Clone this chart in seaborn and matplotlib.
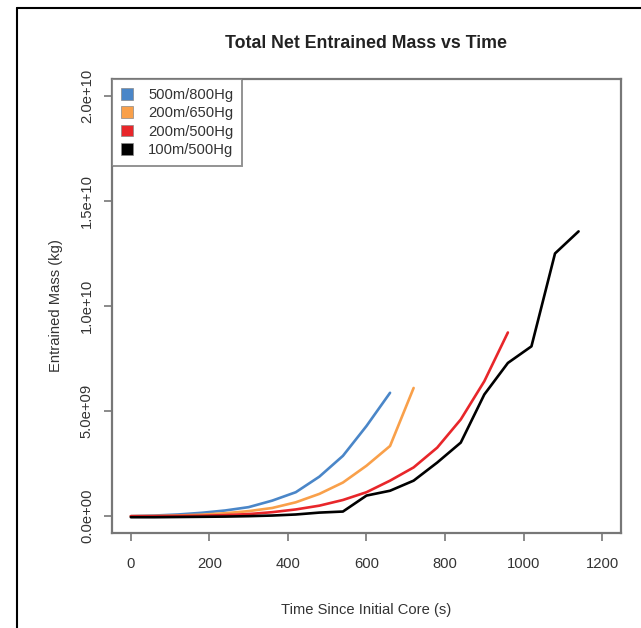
import pandas as pd
import matplotlib
matplotlib.use("Agg")
import matplotlib.pyplot as plt
from matplotlib.patches import Patch
from matplotlib.lines import Line2D
import seaborn as sns

# values (units of 1e9 kg)
t_blue = [0, 60, 120, 180, 240, 300, 360, 420, 480, 540, 600, 660]
m_blue = [0, 0.03, 0.08, 0.16, 0.27, 0.43, 0.74, 1.14, 1.88, 2.87, 4.29, 5.87]

t_orange = [0, 60, 120, 180, 240, 300, 360, 420, 480, 540, 600, 660, 720]
m_orange = [0, 0.01, 0.03, 0.07, 0.14, 0.24, 0.39, 0.66, 1.06, 1.60, 2.40, 3.34, 6.10]

t_red = [0, 60, 120, 180, 240, 300, 360, 420, 480, 540, 600, 660, 720, 780, 840, 900, 960]
m_red = [0, 0.0, 0.01, 0.02, 0.05, 0.10, 0.19, 0.32, 0.50, 0.77, 1.14, 1.69, 2.32, 3.26, 4.60, 6.42, 8.74]

t_black = [0, 60, 120, 180, 240, 300, 360, 420, 480, 540, 600, 660, 720, 780, 840, 900, 960, 1020, 1080, 1140]
m_black = [-0.05, -0.05, -0.04, -0.03, -0.02, 0.0, 0.03, 0.08, 0.17, 0.22, 0.98, 1.21, 1.69, 2.55, 3.50, 5.79, 7.29, 8.08, 12.50, 13.55]

labels = ["500m/800Hg", "200m/650Hg", "200m/500Hg", "100m/500Hg"]
colors = ["#4a86c8", "#f9a04a", "#e8262a", "#000000"]

frames = []
for lab, t, m in zip(labels, [t_blue, t_orange, t_red, t_black], [m_blue, m_orange, m_red, m_black]):
    frames.append(pd.DataFrame({"time": t, "mass": [v * 1e9 for v in m], "run": lab}))
df = pd.concat(frames, ignore_index=True)

sns.set_style("ticks")
plt.rcParams["font.family"] = ["Liberation Sans", "DejaVu Sans"]

fig = plt.figure(figsize=(6.41, 6.28), dpi=100)
ax = fig.add_axes([0.1747, 0.1513, 0.9688 - 0.1747, 0.8742 - 0.1513])

sns.lineplot(data=df, x="time", y="mass", hue="run", hue_order=labels,
             palette=colors, linewidth=1.9, legend=False, ax=ax, sort=False)

ax.set_xlim(-48, 1248)
ax.set_ylim(-0.8e9, 2.08e10)
ax.set_xticks([0, 200, 400, 600, 800, 1000, 1200])
ax.set_yticks([0, 5e9, 1e10, 1.5e10, 2e10])
ax.set_yticklabels(["0.0e+00", "5.0e+09", "1.0e+10", "1.5e+10", "2.0e+10"],
                   rotation=90, va="center")
grey = "#777777"
for s in ax.spines.values():
    s.set_color(grey)
    s.set_linewidth(1.6)
ax.tick_params(colors=grey, labelcolor="#333333", labelsize=10.6, length=6, width=1.2)
ax.tick_params(axis="x", pad=11)
ax.tick_params(axis="y", pad=7)

ax.set_xlabel("Time Since Initial Core (s)", fontsize=10.6, color="#333333", labelpad=23)
ax.set_ylabel("Entrained Mass (kg)", fontsize=10.6, color="#333333", labelpad=12)
ax.set_title("Total Net Entrained Mass vs Time", fontsize=12.8, fontweight="bold",
             color="#222222", pad=22)

handles = [Patch(facecolor=c, edgecolor="#888888", linewidth=0.5) for c in colors]
leg = ax.legend(handles, labels, loc="upper left", bbox_to_anchor=(0, 1),
                borderaxespad=0, frameon=True, fancybox=False, fontsize=10.6,
                handlelength=0.85, handleheight=0.85, handletextpad=1.0,
                labelspacing=0.3, borderpad=0.6, labelcolor="#333333")
leg.get_frame().set_edgecolor(grey)
leg.get_frame().set_linewidth(1.4)

# outer frame of the screenshot (left and top edges)
fig.add_artist(Line2D([17 / 641, 17 / 641], [0, 1 - 8 / 628], color="black", linewidth=1.5,
                      transform=fig.transFigure))
fig.add_artist(Line2D([17 / 641, 1], [1 - 8 / 628, 1 - 8 / 628], color="black", linewidth=1.5,
                      transform=fig.transFigure))

fig.savefig("out.png", dpi=100)
